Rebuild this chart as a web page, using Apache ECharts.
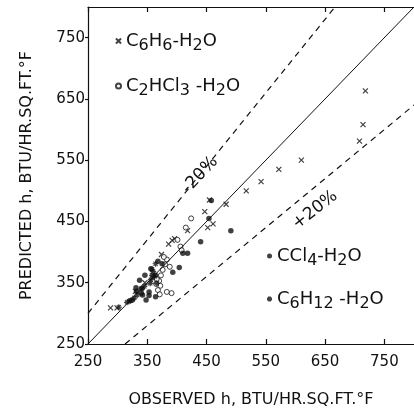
<!DOCTYPE html>
<html>
<head>
<meta charset="utf-8">
<script src="https://cdn.jsdelivr.net/npm/echarts@6/dist/echarts.min.js"></script>
<style>html,body{margin:0;padding:0;background:#fff}#c{width:414px;height:413px}</style>
</head>
<body>
<div id="c"></div>
<script>
const xTicks = [250, 350, 450, 550, 650, 750];
const yTicks = [250, 350, 450, 550, 650, 750];
const seriesNames = ['C6H6-H2O', 'C2HCl3 -H2O', 'CCl4-H2O', 'C6H12 -H2O'];
const refFactors = [1.0, 1.2, 0.8];
const refLabels = ['-20%', '+20%'];

// [observed, predicted]
const c6h6 = [[288,309],[299,309],[330,336],[346,350],[360,358],[374,396],[386,413],[392,419],[396,422],
  [418,435],[447,466],[452,440],[461,446],[455,485],[483,478],[517,500],[542,515],[572,535],[610,550],
  [708,581],[714,608],[718,663]];
const c2hcl3 = [[424,455],[415,440],[401,420],[406,409],[408,403],[383,388],[380,380],[376,371],[373,362],
  [370,353],[372,345],[368,338],[383,335],[391,333],[365,348],[371,331],[388,376],[378,392],[366,356]];
const ccl4 = [[458,484],[454,455],[491,435],[440,417],[418,398],[410,398],[404,375],[393,367],[368,385],
  [375,381],[356,373],[337,354],[331,342],[332,336],[342,330],[353,335],[353,329],[364,327],[348,322],
  [346,362],[364,362],[320,320],[325,322],[341,341],[340,333]];
const c6h12 = [[302,310],[316,318],[322,321],[328,325],[333,330],[340,340],[356,355],[358,362],[360,368],
  [358,372],[362,360],[355,349],[366,349],[345,344],[364,381]];

const FONT = "'DejaVu Sans', sans-serif";
const XMIN = 250, XMAX = 800, YMIN = 250, YMAX = 800;

function richName(name) {
  return '{n|' + name.replace(/(\d+)/g, '}{s|$1}{n|') + '}';
}
const richStyle = {
  n: {fontSize: 18, fontFamily: FONT, color: '#111', verticalAlign: 'top', lineHeight: 18},
  s: {fontSize: 16, fontFamily: FONT, color: '#111', verticalAlign: 'top', lineHeight: 16, padding: [6, 0, 0, 0]}
};

const crossPath = 'path://M0,0L10,10M10,0L0,10';
const starPath = 'path://M5,0L5,10M0,5L10,5M1.5,1.5L8.5,8.5M8.5,1.5L1.5,8.5';
const symbols = [crossPath, 'circle', 'circle', starPath];

function refLine(f) {
  const x1 = Math.max(XMIN, YMIN / f), x2 = Math.min(XMAX, YMAX / f);
  return [[x1, x1 * f], [x2, x2 * f]];
}

const chart = echarts.init(document.getElementById('c'), null, {renderer: 'canvas'});
const axisCommon = {
  type: 'value', min: XMIN, max: XMAX,
  splitLine: {show: false},
  axisLine: {show: true, onZero: false, lineStyle: {color: '#111', width: 1.2}}
};
chart.setOption({
  animation: false,
  backgroundColor: '#fff',
  grid: {left: 88, top: 7, right: -10, bottom: 65, containLabel: false},
  xAxis: [
    Object.assign({}, axisCommon, {
      position: 'bottom',
      name: 'OBSERVED h, BTU/HR.SQ.FT.°F', nameLocation: 'middle', nameGap: 48,
      nameTextStyle: {fontSize: 16, fontFamily: FONT, color: '#111'},
      axisTick: {show: true, inside: true, length: 5, customValues: xTicks, lineStyle: {color: '#111', width: 1.2}},
      axisLabel: {customValues: xTicks, margin: 11, fontSize: 15, fontFamily: FONT, color: '#111'}
    }),
    Object.assign({}, axisCommon, {
      position: 'top',
      axisTick: {show: true, inside: true, length: 5, customValues: xTicks, lineStyle: {color: '#111', width: 1.2}},
      axisLabel: {show: false}
    })
  ],
  yAxis: Object.assign({}, axisCommon, {
    min: YMIN, max: YMAX,
    name: 'PREDICTED h, BTU/HR.SQ.FT.°F', nameLocation: 'middle', nameGap: 53, nameRotate: 90,
    nameTextStyle: {fontSize: 16, fontFamily: FONT, color: '#111'},
    axisTick: {show: true, inside: false, length: 3, customValues: yTicks, lineStyle: {color: '#111', width: 1.2}},
    axisLabel: {customValues: yTicks, margin: 3, fontSize: 15, fontFamily: FONT, color: '#111'}
  }),
  legend: [
    {
      data: [{name: seriesNames[0], icon: symbols[0]}, {name: seriesNames[1], icon: symbols[1]}],
      orient: 'vertical', left: 110, top: 27,
      itemWidth: 5, itemHeight: 5, itemGap: 23, selectedMode: false,
      formatter: richName, textStyle: {rich: richStyle}
    },
    {
      data: [{name: seriesNames[2], icon: symbols[2]}, {name: seriesNames[3], icon: symbols[3]}],
      orient: 'vertical', left: 261, top: 242,
      itemWidth: 5, itemHeight: 5, itemGap: 21, selectedMode: false,
      formatter: richName, textStyle: {rich: richStyle}
    }
  ],
  series: [
    {type: 'line', data: refLine(refFactors[0]), symbol: 'none', silent: true,
      lineStyle: {color: '#111', width: 1, type: 'solid'}},
    {type: 'line', data: refLine(refFactors[1]), symbol: 'none', silent: true,
      lineStyle: {color: '#111', width: 1.2, type: [6, 5]}},
    {type: 'line', data: refLine(refFactors[2]), symbol: 'none', silent: true,
      lineStyle: {color: '#111', width: 1.2, type: [6, 5]}},
    {type: 'scatter', name: seriesNames[0], data: c6h6, symbol: symbols[0], symbolSize: 5,
      itemStyle: {color: 'rgba(0,0,0,0)', borderColor: '#111', borderWidth: 1.2}},
    {type: 'scatter', name: seriesNames[1], data: c2hcl3, symbol: symbols[1], symbolSize: 5,
      itemStyle: {color: '#fff', borderColor: '#111', borderWidth: 1}},
    {type: 'scatter', name: seriesNames[2], data: ccl4, symbol: symbols[2], symbolSize: 5.5,
      itemStyle: {color: '#111'}},
    {type: 'scatter', name: seriesNames[3], data: c6h12, symbol: symbols[3], symbolSize: 6,
      itemStyle: {color: 'rgba(0,0,0,0)', borderColor: '#111', borderWidth: 1.2}}
  ],
  graphic: [
    {type: 'text', x: 200, y: 175, rotation: 47 * Math.PI / 180,
      style: {text: refLabels[0], align: 'center', verticalAlign: 'middle', fontSize: 17, fontFamily: FONT, fill: '#111'}},
    {type: 'text', x: 315, y: 210, rotation: 38 * Math.PI / 180,
      style: {text: refLabels[1], align: 'center', verticalAlign: 'middle', fontSize: 17, fontFamily: FONT, fill: '#111'}}
  ]
});
</script>
</body>
</html>
